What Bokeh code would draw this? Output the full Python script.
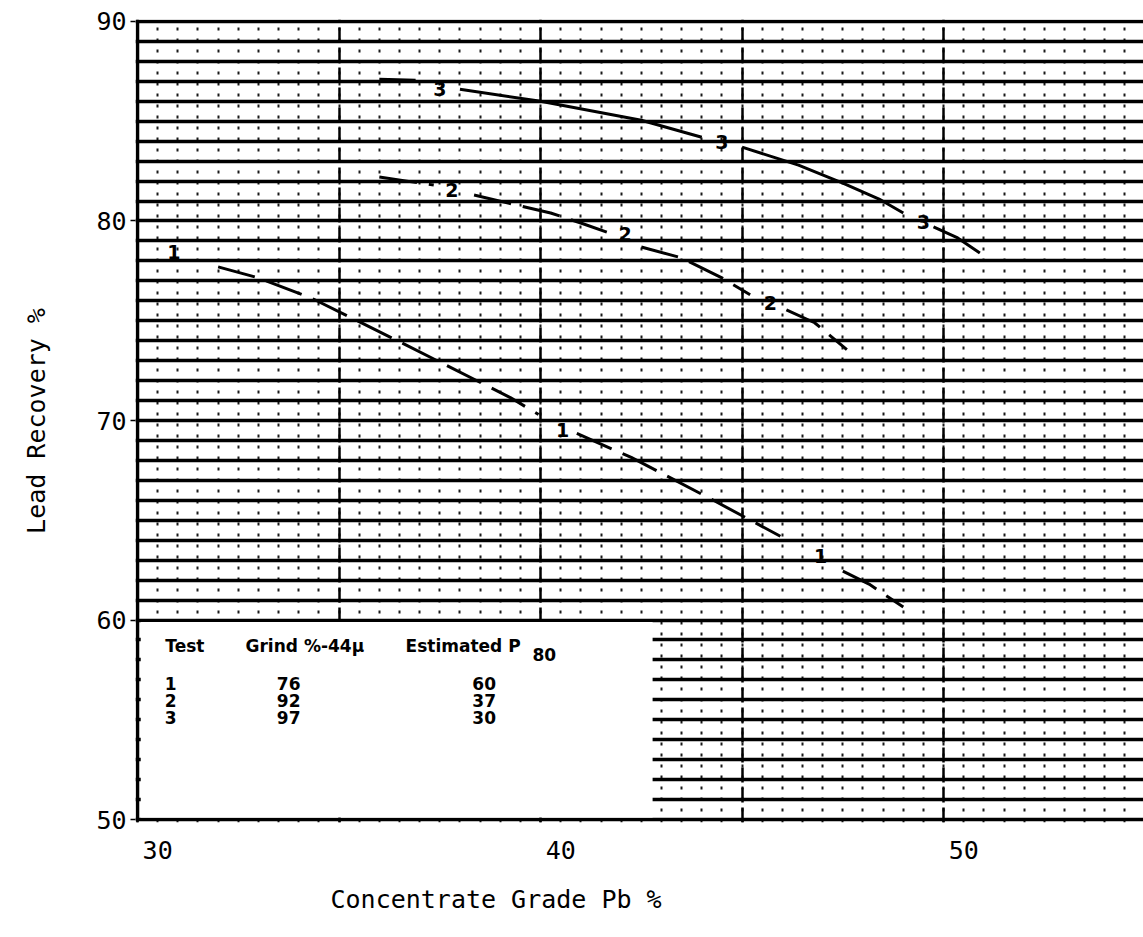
from bokeh.plotting import figure
from bokeh.models import Range1d, FixedTicker, SingleIntervalTicker, LinearAxis, Grid, Title
from bokeh.core.properties import value
from bokeh.embed import file_html
from bokeh.resources import INLINE

nan = float("nan")

# ---- axes ----
x_ticks = [30, 40, 50]
y_ticks = [50, 60, 70, 80, 90]
x_title = "Concentrate Grade Pb %"
y_title = "Lead Recovery %"

# ---- curves (NaN = break where the curve number is written) ----
c1_x = [32.0, 33.0, 34.3, 36.35, 39.25, 39.95, nan, 40.9, 42.25, 44.15, 45.95, nan, 47.5, 48.15, 49.0]
c1_y = [77.7, 77.15, 76.15, 74.1, 71.15, 70.3, nan, 69.35, 68.15, 66.15, 64.2, nan, 62.45, 61.8, 60.65]

c2_x = [36.0, 37.35, nan, 38.35, 39.4, 40.25, 41.0, 41.7, nan, 42.5, 43.5, 44.5, 45.2, nan, 46.1, 46.8, 47.6]
c2_y = [82.2, 81.8, nan, 81.3, 80.8, 80.4, 79.9, 79.4, nan, 78.7, 78.15, 77.15, 76.3, nan, 75.55, 74.9, 73.55]

c3_x = [36.0, 36.9, nan, 38.0, 40.0, 42.5, 44.0, nan, 45.0, 46.4, 47.5, 48.4, 49.0, nan, 49.75, 50.35, 50.9]
c3_y = [87.1, 87.05, nan, 86.6, 86.0, 85.05, 84.2, nan, 83.7, 82.8, 81.9, 81.1, 80.4, nan, 79.7, 79.15, 78.4]

# curve numbers written on the curves
lab_x = [30.9, 40.55, 46.95, 37.8, 42.1, 45.7, 37.5, 44.5, 49.5]
lab_y = [78.45, 69.5, 63.2, 81.55, 79.35, 75.9, 86.6, 83.95, 79.95]
lab_t = ["1", "1", "1", "2", "2", "2", "3", "3", "3"]

# ---- table in lower left ----
tbl_head = ["Test", "Grind %-44\u03bc", "Estimated P"]
tbl_test = ["1", "2", "3"]
tbl_grind = ["76", "92", "97"]
tbl_p80 = ["60", "37", "30"]

BLACK = "#000000"
MONO = "DejaVu Sans Mono"
X0, X1 = 29.95, 54.96

p = figure(width=1143, height=937,
           x_range=Range1d(X0, X1), y_range=Range1d(49.85, 90.1),
           x_axis_location=None,
           output_backend="svg", toolbar_location=None,
           min_border_left=135, min_border_right=0, min_border_top=19, min_border_bottom=115)
p.outline_line_color = None
p.background_fill_color = "white"
p.xgrid.visible = False
p.ygrid.visible = False

# graph paper: horizontal every 1 unit, dashed verticals every 5, dotted every 0.5
gy = Grid(dimension=1, ticker=SingleIntervalTicker(interval=1),
          grid_line_color=BLACK, grid_line_width=3.5, grid_line_alpha=1.0)
gx = Grid(dimension=0, ticker=SingleIntervalTicker(interval=5, num_minor_ticks=10),
          grid_line_color=BLACK, grid_line_width=2.5, grid_line_dash="15 5", grid_line_alpha=1.0,
          minor_grid_line_color=BLACK, minor_grid_line_width=2, minor_grid_line_dash="3 8",
          minor_grid_line_alpha=0.9)
p.add_layout(gx, "center")
p.add_layout(gy, "center")

# x axis: the printed numbers sit half a unit to the right of their grid lines
p.extra_x_ranges = {"lbl": Range1d(X0 - 0.5, X1 - 0.5)}
xax = LinearAxis(x_range_name="lbl", ticker=FixedTicker(ticks=x_ticks))
xax.axis_line_color = None
xax.major_tick_line_color = None
xax.minor_tick_line_color = None
xax.major_label_text_font = MONO
xax.major_label_text_font_size = "25px"
xax.major_label_text_color = BLACK
xax.major_label_standoff = 12
p.add_layout(xax, "below")

p.add_layout(Title(text=x_title, align="left", offset=195, text_font=MONO,
                   text_font_size="25px", text_font_style="normal", text_color=BLACK,
                   standoff=42), "below")

# y axis
p.yaxis.ticker = FixedTicker(ticks=y_ticks)
p.yaxis.axis_line_color = None
p.yaxis.minor_tick_line_color = None
p.yaxis.major_tick_line_color = BLACK
p.yaxis.major_tick_line_width = 1.5
p.yaxis.major_tick_in = 0
p.yaxis.major_tick_out = 5
p.yaxis.major_label_standoff = 4
p.yaxis.major_label_text_font = MONO
p.yaxis.major_label_text_font_size = "25px"
p.yaxis.major_label_text_color = BLACK
p.yaxis.axis_label = y_title
p.yaxis.axis_label_text_font = MONO
p.yaxis.axis_label_text_font_size = "25px"
p.yaxis.axis_label_text_font_style = "normal"
p.yaxis.axis_label_text_color = BLACK
p.yaxis.axis_label_standoff = 42

# blank panel for the table (no graph paper there)
p.quad(left=x_ticks[0] + 0.08, right=42.78, bottom=y_ticks[0] + 0.1, top=y_ticks[1] - 0.1,
       fill_color="white", line_color=None)

# left border of the grid
p.line(x=[x_ticks[0], x_ticks[0]], y=[y_ticks[0], y_ticks[-1]], line_color=BLACK, line_width=3.5)

# curves
p.line(c1_x, c1_y, line_color=BLACK, line_width=3, line_dash="38 12")
p.line(c2_x, c2_y, line_color=BLACK, line_width=3, line_dash="38 12")
p.line(c3_x, c3_y, line_color=BLACK, line_width=3)

p.text(x=lab_x, y=lab_y, text=lab_t, text_font=value("DejaVu Sans"), text_font_size="19px",
       text_font_style="bold", text_align="center", text_baseline="middle", text_color=BLACK)

# table
head_x = [30.69, 32.68, 36.65]
head_y = 58.72
p.text(x=head_x, y=[head_y] * 3, text=tbl_head, text_font=value("DejaVu Sans"),
       text_font_size="17px", text_font_style="bold", text_baseline="middle", text_color=BLACK)
p.text(x=[39.8], y=[head_y - 0.45], text=["80"], text_font=value("DejaVu Sans"),
       text_font_size="17px", text_font_style="bold", text_baseline="middle", text_color=BLACK)
row_y = [56.82, 55.96, 55.11]
for cx, col in zip([30.82, 33.75, 38.6], [tbl_test, tbl_grind, tbl_p80]):
    p.text(x=[cx] * 3, y=row_y, text=col, text_font=value("DejaVu Sans"), text_font_size="17px",
           text_font_style="bold", text_align="center", text_baseline="middle", text_color=BLACK)

open("out.html", "w").write(file_html(p, INLINE))
